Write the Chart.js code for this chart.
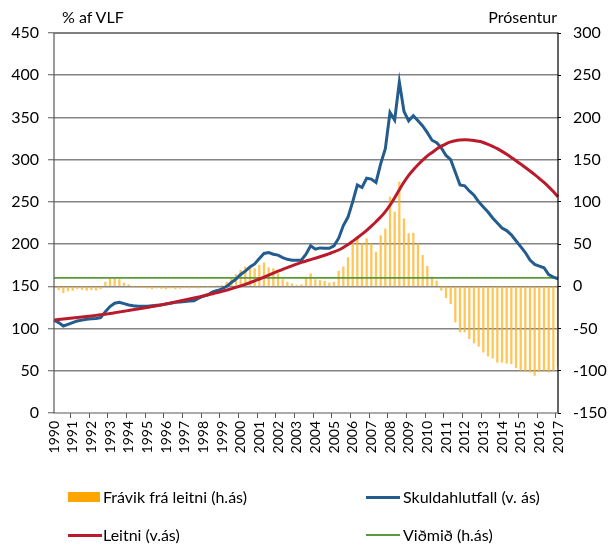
<!DOCTYPE html>
<html><head><meta charset="utf-8">
<script src="https://cdn.jsdelivr.net/npm/chart.js@4.4.0/dist/chart.umd.min.js"></script>
<style>
html,body{margin:0;padding:0;background:#fff;}
#wrap{position:relative;width:609px;height:545px;overflow:hidden;}
canvas{position:absolute;left:0;top:0;}
.t{position:absolute;font-family:Lato,sans-serif;font-size:16px;color:#000;white-space:nowrap;line-height:20px;}
.sw{position:absolute;}
</style></head>
<body><div id="wrap"><canvas id="c" width="609" height="545"></canvas>
<div class="t" style="left:62px;top:7px">% af VLF</div>
<div class="t" style="right:52px;top:7px">Prósentur</div>
<div class="sw" style="left:68px;top:492px;width:32px;height:10px;background:#FFA500"></div>
<div class="t" style="left:103px;top:487px">Frávik frá leitni (h.ás)</div>
<div class="sw" style="left:366px;top:496px;width:34px;height:3px;background:#245C8E"></div>
<div class="t" style="left:403px;top:487px">Skuldahlutfall (v. ás)</div>
<div class="sw" style="left:68px;top:534px;width:34px;height:3px;background:#BA1B2C"></div>
<div class="t" style="left:103px;top:525px">Leitni (v.ás)</div>
<div class="sw" style="left:366px;top:534px;width:34px;height:2px;background:#5B9A3C"></div>
<div class="t" style="left:403px;top:525px">Viðmið (h.ás)</div>
</div>
<script>
const years = [];
for (let y = 1990; y <= 2017; y++) years.push(y);
const quarters = [];
years.forEach(y => { for (let q = 1; q <= 4; q++) { if (y < 2017 || q === 1) quarters.push(y + 'K' + q); } });

const skuldahlutfall = [110,107,103,105,107,109,110,111,111.5,112,113,120,126,130,131,129.5,128,127,126.5,126.5,
126.5,127,127.5,128,129,130,131,131.5,132,132.5,133,136,138.5,140,143.5,145,147,150,154.5,158.5,
164,168,173,176.5,183,189,190,188,187,184,182,181,181,181,188,198,194,195.5,195,195,
198,207,222,232,250,270,267,278,277,273,295,313,356,347,392,357,346,352,346,340,
332,323,320,314,305,300,285,270,269,263,258,250,244,238,231,225,219,216,211,204,
197,190,181,176,174,172,164,161,159];

const leitni = [110,110.6,111.2,111.8,112.4,113,113.6,114.2,114.9,115.6,116.3,117,117.8,118.7,119.6,120.5,121.4,122.3,123.2,124.1,
125,126,127,128.1,129.2,130.3,131.4,132.6,133.8,135,136.2,137.4,138.6,140,141.3,142.6,144,145.5,147,148.7,
150.5,152.4,154.4,156.5,158.7,161,163.3,165.6,167.9,170.1,172.2,174.3,176.3,178.3,180,181.7,183.3,185,186.8,188.7,
190.7,193,196,199.5,203.5,207.5,211.8,216.3,221.3,226.5,232,238.5,246,255,264.5,273.5,281.5,288,294,299.5,
304.5,308.5,312.5,316,318.8,321,322.5,323.3,323.6,323.4,322.8,321.8,320.3,318.2,315.8,313,309.8,306.3,302.6,298.8,
294.8,290.7,286.5,282.2,277.7,273,267.8,262.2,256];

const fravik = [-2,-4,-7.5,-5.5,-4.7,-2.8,-3.9,-4.7,-4,-4.5,-3,5,9,9,8,4,2,-1,-1.5,-1.5,
-2,-3,-2,-2.5,-3,-2,-3,-2.5,-1,-2,-1.5,-2,-1,-0.5,-1,0.5,1,5,9,14,
19,23,23,21,25,28,22,21,15,8,5,3,1,2,11,15,8,7,6,4,
5,18,23,34,51,56.5,50.5,56.5,50.5,40.6,60,68,105.8,88,123.5,80,62.4,63,50.5,36.7,
23.7,11,6.3,-4.7,-13.4,-20.5,-42.3,-54,-54,-62,-67,-71,-78,-82.5,-85,-90,-90,-91,-91.7,-96.4,
-99.5,-100,-101.5,-105.4,-101,-99.5,-101.5,-99.5,-95];

const vidmidValue = 10;
const vidmid = quarters.map(() => vidmidValue);

const leftTicks = [0,50,100,150,200,250,300,350,400,450];

const borderPlugin = {
  id: 'frame',
  afterDatasetsDraw(chart) {
    const a = chart.chartArea, c = chart.ctx;
    c.save();
    c.lineWidth = 1.2;
    c.strokeStyle = '#000';
    c.beginPath();
    c.moveTo(a.left, a.top); c.lineTo(a.right, a.top); c.lineTo(a.right, a.bottom);
    c.stroke();
    c.strokeStyle = '#595959';
    c.beginPath();
    c.moveTo(a.left, a.top); c.lineTo(a.left, a.bottom); c.lineTo(a.right, a.bottom);
    c.stroke();
    c.restore();
  }
};

new Chart(document.getElementById('c'), {
  type: 'bar',
  data: {
    labels: quarters,
    datasets: [
      { type: 'line', label: 'Skuldahlutfall (v. ás)', data: skuldahlutfall, yAxisID: 'y', borderColor: '#245C8E', borderWidth: 3, pointRadius: 0, tension: 0, order: 2 },
      { type: 'line', label: 'Leitni (v.ás)', data: leitni, yAxisID: 'y', borderColor: '#BA1B2C', borderWidth: 3, pointRadius: 0, tension: 0.3, order: 1 },
      { type: 'line', label: 'Viðmið (h.ás)', data: vidmid, yAxisID: 'y1', borderColor: '#5B9A3C', borderWidth: 1.8, pointRadius: 0, order: 3 },
      { type: 'bar', label: 'Frávik frá leitni (h.ás)', data: fravik, yAxisID: 'y1', backgroundColor: 'rgba(255,178,30,0.75)', barThickness: 1.6, order: 4 }
    ]
  },
  options: {
    responsive: false,
    animation: false,
    layout: { padding: { top: 33, left: 0, right: 0, bottom: 0 } },
    plugins: { legend: { display: false }, tooltip: { enabled: false } },
    scales: {
      x: {
        offset: false,
        afterFit: s => { s.height = 132; },
        grid: {
          drawOnChartArea: false, drawTicks: true, tickLength: 5,
          tickColor: ctx => (ctx.index % 4 === 0 ? '#595959' : 'rgba(0,0,0,0)')
        },
        border: { display: false },
        ticks: {
          autoSkip: false, maxRotation: 90, minRotation: 90, padding: 3,
          font: { family: 'Lato', size: 14 }, color: '#000',
          callback: function(v, i) { return i % 4 === 0 ? quarters[i].slice(0, 4) : ''; }
        }
      },
      y: {
        position: 'left', min: 0, max: 450,
        afterFit: s => { s.width = 54; },
        afterBuildTicks: s => { s.ticks = leftTicks.map(v => ({ value: v })); },
        border: { display: false },
        grid: {
          color: ctx => (ctx.tick && (ctx.tick.value === 0 || ctx.tick.value === 450) ? 'rgba(0,0,0,0)' : '#848484'),
          lineWidth: 1.5, borderDash: [6, 4], tickLength: 6, tickColor: '#595959', tickBorderDash: [], tickWidth: 1
        },
        ticks: { padding: 9, font: { family: 'Lato', size: 16 }, color: '#000' }
      },
      y1: {
        position: 'right', min: -150, max: 300,
        afterFit: s => { s.width = 51; },
        ticks: { stepSize: 50, padding: 12, font: { family: 'Lato', size: 16 }, color: '#000' },
        border: { display: false },
        grid: { drawOnChartArea: false, tickLength: 3, tickColor: '#000' }
      }
    }
  },
  plugins: [borderPlugin]
});
</script>
</body></html>
